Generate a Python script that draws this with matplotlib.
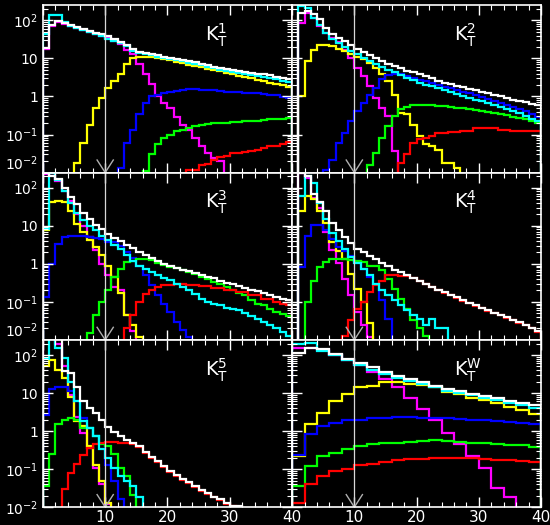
import numpy as np
import matplotlib
matplotlib.use('Agg')
import matplotlib.pyplot as plt
from matplotlib.ticker import FixedLocator, MultipleLocator, LogLocator, NullFormatter

# bin edges: width 1 for K_T^1..5, width 2 for K_T^W
edges1 = np.arange(0, 41, 1)
edges2 = np.arange(0, 41, 2)

# ---- K_T^1 ----
k1_white = [19, 74, 95, 87, 76, 68, 60, 54, 48, 43, 38, 32, 27, 22, 17.5, 15, 14, 13, 12, 11,
            10.5, 9.8, 9.1, 8.5, 7.9, 7.2, 6.6, 6.0, 5.6, 5.2, 4.9, 4.6, 4.4, 4.2, 4.0, 3.8, 3.6, 3.3, 3.0, 2.8]
k1_cyan = [45, 135, 135, 92, 72, 63, 55, 49, 43, 38, 33, 29, 25, 21, 16, 14, 13, 12, 11, 10.2,
           9.6, 9.0, 8.4, 7.8, 7.2, 6.6, 6.0, 5.5, 5.1, 4.7, 4.4, 4.1, 3.9, 3.7, 3.5, 3.3, 3.1, 2.9, 2.6, 2.4]
k1_magenta = [18, 70, 88, 80, 70, 62, 55, 49, 44, 39, 34, 29, 24, 17, 12.7, 7, 3.8, 2.1, 1.0, 0.68,
              0.5, 0.28, 0.18, 0.13, 0.081, 0.049, 0.033, 0.024, 0.02] + [0] * 11
k1_yellow = [0] * 5 + [0.018, 0.06, 0.18, 0.5, 0.92, 1.7, 2.5, 3.8, 7, 10, 11, 11, 10.6, 10.2, 9.8,
                       9.2, 8.3, 7.6, 6.9, 6.3, 5.9, 5.4, 4.9, 4.6, 4.2, 3.8, 3.5, 3.2, 3.0, 2.75,
                       2.5, 2.3, 2.1, 1.95, 1.8]
k1_blue = [0] * 12 + [0.013, 0.06, 0.135, 0.34, 0.68, 1.0, 1.12, 1.25, 1.33, 1.38, 1.47, 1.53, 1.53, 1.5,
                      1.47, 1.44, 1.41, 1.35, 1.33, 1.3, 1.25, 1.22, 1.2, 1.15, 1.12, 1.08, 0.96, 0.92]
k1_green = [0] * 16 + [0.011, 0.03, 0.055, 0.081, 0.10, 0.12, 0.135, 0.15, 0.17, 0.18, 0.19, 0.195,
                       0.2, 0.2, 0.21, 0.215, 0.22, 0.225, 0.23, 0.24, 0.25, 0.26, 0.26, 0.27]
k1_red = [0] * 23 + [0.0115, 0.012, 0.0155, 0.017, 0.022, 0.026, 0.028, 0.032, 0.033, 0.035, 0.037,
                     0.039, 0.045, 0.049, 0.051, 0.058, 0.063]

# ---- K_T^2 ----
k2_white = [0, 160, 178, 145, 106, 64, 43, 35, 29, 23, 17.5, 14.5, 12, 10, 8.5, 7.2, 6.3, 5.5, 4.8, 4.3,
            3.8, 3.4, 3.0, 2.6, 2.3, 2.1, 1.9, 1.77, 1.6, 1.45, 1.3, 1.2, 1.1, 1.0, 0.92, 0.83, 0.75, 0.7, 0.64, 0.58]
k2_cyan = [0, 240, 215, 117, 74, 48, 32, 25, 20, 16, 13, 10.5, 8.8, 7.3, 6.0, 5.0, 4.3, 3.7, 3.1, 2.7,
           2.3, 2.05, 1.85, 1.65, 1.45, 1.28, 1.14, 1.02, 0.9, 0.82, 0.74, 0.67, 0.6, 0.54, 0.48, 0.42, 0.36, 0.31, 0.26, 0.22]
k2_magenta = [0, 87, 160, 115, 70, 48, 35, 27, 17, 10.4, 5.7, 3.4, 1.9, 0.92, 0.5, 0.3, 0.036] + [0] * 23
k2_yellow = [0, 1.0, 8.5, 17, 22, 22, 21, 18, 15.5, 12.7, 11, 9.4, 7.7, 5.7, 4.0, 2.5, 1.12, 0.37, 0.34, 0.18,
             0.09, 0.055, 0.05, 0.04, 0.018, 0.018, 0.013] + [0] * 13
k2_blue = [0] * 5 + [0.012, 0.022, 0.06, 0.11, 0.22, 0.41, 0.68, 1.12, 1.7, 2.8, 3.6, 4.0, 3.8, 3.4, 3.0,
                     2.75, 2.5, 2.2, 2.0, 1.8, 1.66, 1.5, 1.35, 1.22, 1.1, 0.98, 0.87, 0.77, 0.68, 0.6,
                     0.54, 0.48, 0.41, 0.35, 0.29]
k2_green = [0] * 12 + [0.016, 0.033, 0.081, 0.17, 0.3, 0.46, 0.54, 0.58, 0.58, 0.6, 0.6, 0.56, 0.56, 0.53,
                       0.51, 0.49, 0.46, 0.44, 0.41, 0.38, 0.36, 0.34, 0.32, 0.29, 0.27, 0.25, 0.22, 0.2]
k2_red = [0] * 17 + [0.018, 0.03, 0.06, 0.074, 0.08, 0.09, 0.107, 0.107, 0.115, 0.115, 0.127, 0.127,
                     0.144, 0.144, 0.15, 0.15, 0.135, 0.135, 0.127, 0.127, 0.12, 0.12, 0.12]

# ---- K_T^3 ----
k3_white = [250, 200, 170, 100, 56, 37, 22, 15, 10.5, 8, 6.1, 4.8, 3.9, 3.2, 2.6, 2.1, 1.7, 1.4, 1.15, 1.0,
            0.87, 0.77, 0.7, 0.63, 0.57, 0.51, 0.46, 0.41, 0.36, 0.32, 0.29, 0.26, 0.23, 0.21, 0.19, 0.17,
            0.15, 0.137, 0.12, 0.11]
k3_cyan = [8.3, 250, 160, 80, 40, 22, 14, 10, 7.5, 5.5, 4.2, 3.2, 2.4, 1.7, 1.2, 0.9, 0.75, 0.6, 0.5, 0.42,
           0.38, 0.3, 0.25, 0.2, 0.16, 0.12, 0.1, 0.09, 0.08, 0.07, 0.065, 0.06, 0.05, 0.042, 0.035, 0.03,
           0.025, 0.02, 0.016, 0.013]
k3_magenta = [230, 250, 150, 80, 45, 20, 10, 5, 2.3, 1.0, 0.5, 0.25, 0.2, 0.045, 0.017] + [0] * 25
k3_yellow = [7.5, 41, 46, 41, 25, 11, 6.8, 4.1, 2.8, 1.7, 0.9, 0.45, 0.17, 0.045, 0.025, 0.012] + [0] * 24
k3_blue = [0.13, 1.0, 3.3, 5, 5.5, 5.5, 5.5, 5, 4.8, 4.4, 3.7, 3.7, 2.9, 2.0, 1.4, 0.9, 0.5, 0.27, 0.15,
           0.09, 0.054, 0.03, 0.018, 0.012] + [0] * 16
k3_green = [0] * 7 + [0.015, 0.045, 0.1, 0.2, 0.45, 0.74, 1.1, 1.2, 1.3, 1.35, 1.25, 1.05, 0.92, 0.82,
                      0.76, 0.68, 0.6, 0.53, 0.46, 0.4, 0.34, 0.29, 0.25, 0.21, 0.17, 0.15, 0.11, 0.09,
                      0.08, 0.066, 0.054, 0.048, 0.043]
k3_red = [0] * 13 + [0.02, 0.045, 0.1, 0.16, 0.2, 0.25, 0.28, 0.28, 0.3, 0.3, 0.28, 0.28, 0.26, 0.26,
                     0.23, 0.23, 0.2, 0.2, 0.18, 0.18, 0.155, 0.15, 0.12, 0.12, 0.1, 0.09, 0.08]

# ---- K_T^4 ----
k4_white = [0, 250, 200, 68, 41, 25, 12, 7.5, 5.0, 3.5, 2.5, 2.0, 1.6, 1.3, 1.05, 0.85, 0.7, 0.6, 0.5, 0.42,
            0.36, 0.3, 0.25, 0.21, 0.18, 0.155, 0.13, 0.11, 0.095, 0.08, 0.07, 0.06, 0.052, 0.045, 0.04,
            0.034, 0.029, 0.025, 0.021, 0.017]
k4_cyan = [0, 60, 200, 130, 40, 15, 6.5, 4, 2.5, 1.5, 1.05, 0.75, 0.5, 0.3, 0.2, 0.15, 0.11, 0.08, 0.06,
           0.045, 0.035, 0.025, 0.035, 0.02, 0.02] + [0] * 15
k4_magenta = [0, 250, 180, 55, 30, 7, 2.3, 1.05, 0.4, 0.15, 0.055, 0.025, 0.012] + [0] * 27
k4_yellow = [0, 25, 62, 50, 25, 12, 3.7, 2.2, 1.3, 0.55, 0.22, 0.1, 0.027] + [0] * 27
k4_blue = [0, 0.82, 5.5, 10.5, 10.5, 7.5, 4.5, 2.8, 2.2, 1.6, 1.2, 0.75, 0.45, 0.3, 0.11, 0.035] + [0] * 24
k4_green = [0, 0, 0.1, 0.36, 0.82, 1.1, 1.3, 1.35, 1.35, 1.25, 1.2, 1.1, 0.9, 0.85, 0.67, 0.4, 0.22, 0.12,
            0.066, 0.033, 0.02, 0.013] + [0] * 18
k4_red = [0] * 8 + [0.013, 0.033, 0.066, 0.1, 0.18, 0.27, 0.36, 0.5, 0.5, 0.48, 0.48, 0.42, 0.35, 0.29,
                    0.245, 0.205, 0.175, 0.15, 0.127, 0.107, 0.092, 0.078, 0.068, 0.058, 0.05, 0.044,
                    0.038, 0.033, 0.028, 0.024, 0.02, 0.016]

# ---- K_T^5 ----
k5_white = [400, 400, 400, 38, 34, 14, 6.2, 4.1, 3.0, 2.0, 1.3, 0.95, 0.75, 0.6, 0.5, 0.4, 0.28, 0.21,
            0.16, 0.12, 0.09, 0.07, 0.055, 0.045, 0.035, 0.028, 0.023, 0.019, 0.016, 0.013, 0.011,
            0.0105] + [0] * 8
k5_cyan = [77, 300, 150, 85, 19, 6.2, 1.8, 1.2, 0.74, 0.33, 0.2, 0.11, 0.066, 0.05, 0.035, 0.018] + [0] * 24
k5_magenta = [300, 300, 200, 50, 9, 2.3, 0.9, 0.35, 0.11, 0.04, 0.012] + [0] * 29
k5_yellow = [50, 75, 40, 25, 8, 1.8, 1.4, 0.4, 0.13, 0.05, 0.013] + [0] * 29
k5_blue = [2.7, 13, 14, 14, 11, 6, 2.2, 1.2, 0.74, 0.45, 0.13, 0.05, 0.016] + [0] * 27
k5_green = [0.035, 0.25, 1.5, 2.0, 2.2, 2.0, 1.2, 1.2, 0.74, 0.45, 0.4, 0.25, 0.11, 0.066, 0.021] + [0] * 25
k5_red = [0] * 3 + [0.03, 0.08, 0.14, 0.24, 0.35, 0.45, 0.5, 0.52, 0.52, 0.5, 0.48, 0.45, 0.38, 0.27, 0.2,
                    0.155, 0.115, 0.086, 0.067, 0.052, 0.043, 0.033, 0.027, 0.022, 0.018, 0.015, 0.012,
                    0.0105] + [0] * 9

# ---- K_T^W (2-unit bins) ----
kw_white = [115, 155, 140, 105, 77, 60, 47, 35, 28, 23, 19, 15, 12.5, 11, 9.6, 8.3, 7.2, 6.3, 5.6, 4.9]
kw_cyan = [190, 210, 130, 98, 72, 55, 40, 31, 25, 21, 17, 14, 11.3, 9.8, 8.7, 7.6, 6.4, 5.6, 4.8, 4.0]
kw_magenta = [150, 150, 135, 100, 72, 56, 35, 23, 14, 7.5, 3.7, 2.0, 0.9, 0.45, 0.22, 0.11, 0.032, 0.019, 0, 0]
kw_yellow = [0.22, 1.5, 3.0, 6.2, 9.2, 14, 15, 19, 19, 17, 16, 14, 10.5, 9.2, 7.6, 6.4, 5.4, 4.4, 3.5, 2.8]
kw_blue = [0.24, 0.82, 1.35, 1.65, 1.95, 2.0, 2.2, 2.2, 2.4, 2.4, 2.2, 2.2, 2.2, 2.1, 2.0, 1.95, 1.8, 1.7, 1.65, 1.5]
kw_green = [0.036, 0.12, 0.22, 0.27, 0.33, 0.4, 0.45, 0.5, 0.5, 0.51, 0.55, 0.58, 0.55, 0.51, 0.5, 0.48,
            0.45, 0.43, 0.42, 0.39]
kw_red = [0.013, 0.04, 0.066, 0.09, 0.098, 0.13, 0.14, 0.15, 0.17, 0.18, 0.19, 0.195, 0.2, 0.195, 0.195,
          0.18, 0.17, 0.17, 0.16, 0.15]

panel_tags = ['1', '2', '3', '4', '5', 'W']
panel_edges = [edges1, edges1, edges1, edges1, edges1, edges2]
panel_series = [
    [k1_magenta, k1_yellow, k1_blue, k1_green, k1_red, k1_cyan, k1_white],
    [k2_magenta, k2_yellow, k2_blue, k2_green, k2_red, k2_cyan, k2_white],
    [k3_magenta, k3_yellow, k3_blue, k3_green, k3_red, k3_cyan, k3_white],
    [k4_magenta, k4_yellow, k4_blue, k4_green, k4_red, k4_cyan, k4_white],
    [k5_magenta, k5_yellow, k5_blue, k5_green, k5_red, k5_cyan, k5_white],
    [kw_magenta, kw_yellow, kw_blue, kw_green, kw_red, kw_cyan, kw_white],
]
colours = ['#ff00ff', '#ffff00', '#0000ff', '#00ff00', '#ff0000', '#00ffff', '#ffffff']

y_ticks = [0.01, 0.1, 1, 10, 100]
y_labels = [r'$\mathregular{10^{-2}}$', r'$\mathregular{10^{-1}}$', '1', '10', r'$\mathregular{10^{2}}$']
x_ticks = [0, 10, 20, 30, 40]
x_labels = ['', '10', '20', '30', '40']

fig, axes = plt.subplots(3, 2, figsize=(5.5, 5.25), dpi=100)
fig.patch.set_facecolor('black')
plt.subplots_adjust(left=0.078, right=0.984, top=0.990, bottom=0.034, wspace=0, hspace=0)

for i in range(6):
    ax = axes[i // 2, i % 2]
    ax.set_facecolor('black')
    ax.set_yscale('log')
    for vals, c in zip(panel_series[i], colours):
        v = np.asarray(vals, dtype=float)
        v = np.where(v > 0, v, 1e-4)   # empty bins drop below the frame
        ax.stairs(v, panel_edges[i], baseline=1e-4, color=c, lw=1.6)
    ax.set_xlim(0, 40)
    ax.set_ylim(0.01, 250)

    # cut line at 10 with the arrow at the bottom
    ax.axvline(10, color='#d8d8d8', lw=0.9)
    ax.plot([8.7, 10, 11.3], [0.075, 0.0, 0.075], transform=ax.get_xaxis_transform(),
            color='#b0b0b0', lw=1.0)

    ax.text(0.65, 0.82, r'$\mathregular{K_{T}^{%s}}$' % panel_tags[i], transform=ax.transAxes,
            color='white', fontsize=14, va='center', ha='left')

    ax.xaxis.set_major_locator(FixedLocator(x_ticks))
    ax.xaxis.set_minor_locator(MultipleLocator(2))
    ax.yaxis.set_major_locator(FixedLocator(y_ticks))
    ax.yaxis.set_minor_locator(LogLocator(base=10, subs=np.arange(2, 10)))
    ax.yaxis.set_minor_formatter(NullFormatter())
    ax.tick_params(which='both', direction='in', top=True, right=True, colors='white',
                   labelcolor='white', labelsize=10)
    ax.tick_params(which='major', length=7, width=1)
    ax.tick_params(which='minor', length=3.5, width=0.8)
    ax.tick_params(axis='x', pad=2, labelsize=11)

    if i % 2 == 0:
        ax.set_yticklabels(y_labels)
        # lift the 10^-2 label a little so it clears the next row's 10^2
        if i < 4:
            ax.get_yticklabels()[0].set_verticalalignment('bottom')
    else:
        ax.set_yticklabels([])
    if i // 2 == 2:
        ax.set_xticklabels(x_labels)
    else:
        ax.set_xticklabels([])

    for s in ax.spines.values():
        s.set_color('white')
        s.set_linewidth(1.2)

fig.savefig('out.png', dpi=100, facecolor='black')
